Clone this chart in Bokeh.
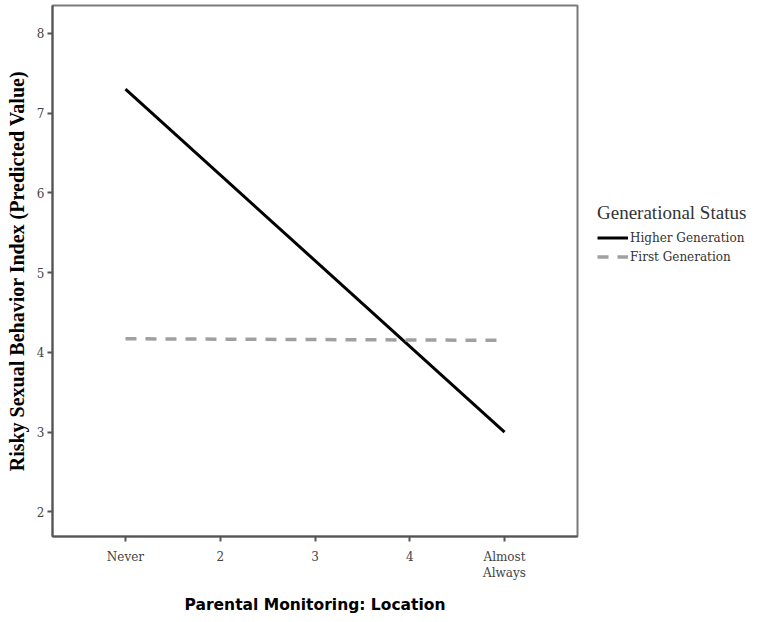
from bokeh.plotting import figure
from bokeh.models import FixedTicker, Range1d, Legend, LegendItem
from bokeh.embed import file_html
from bokeh.resources import INLINE

# Data
x_ticks = [1, 2, 3, 4, 5]
x_tick_labels = {1: "Never", 2: "2", 3: "3", 4: "4", 5: "Almost\nAlways"}
y_ticks = [2, 3, 4, 5, 6, 7, 8]
x_ends = [1, 5]
higher_generation = [7.30, 3.00]
first_generation = [4.17, 4.15]

p = figure(frame_width=525, frame_height=531, output_backend="svg", toolbar_location=None,
           x_range=Range1d(0.23, 5.77), y_range=Range1d(1.69, 8.35),
           min_border_left=52, min_border_right=0, min_border_top=5, min_border_bottom=6)

p.background_fill_color = "white"
p.border_fill_color = "white"
p.outline_line_color = "#7a7a7a"
p.outline_line_width = 2
p.grid.visible = False

r1 = p.line(x_ends, higher_generation, line_color="black", line_width=3)
r2 = p.line(x_ends, first_generation, line_color="#a0a0a0", line_width=3.5, line_dash="11 9")

for ax in (p.xaxis[0], p.yaxis[0]):
    ax.axis_line_color = "#555555"
    ax.axis_line_width = 2
    ax.major_tick_line_color = "#555555"
    ax.major_tick_line_width = 2
    ax.major_tick_in = 0
    ax.major_tick_out = 5
    ax.minor_tick_line_color = None
    ax.major_label_text_font = "DejaVu Serif"
    ax.major_label_text_font_size = "12px"
    ax.major_label_text_color = "#444444"

p.xaxis.ticker = FixedTicker(ticks=x_ticks)
p.xaxis.major_label_overrides = x_tick_labels
p.yaxis.ticker = FixedTicker(ticks=y_ticks)
p.yaxis.major_label_standoff = 3
p.xaxis.major_label_standoff = 8

p.xaxis.axis_label = "Parental Monitoring: Location"
p.xaxis.axis_label_text_font = "DejaVu Sans"
p.xaxis.axis_label_text_font_style = "bold"
p.xaxis.axis_label_text_font_size = "15.5px"
p.xaxis.axis_label_text_color = "black"
p.xaxis.axis_label_standoff = 13

p.yaxis.axis_label = "Risky Sexual Behavior Index (Predicted Value)"
p.yaxis.axis_label_text_font = "Liberation Serif"
p.yaxis.axis_label_text_font_style = "bold"
p.yaxis.axis_label_text_font_size = "20px"
p.yaxis.axis_label_text_color = "black"
p.yaxis.axis_label_standoff = 6

legend = Legend(items=[LegendItem(label="Higher Generation", renderers=[r1]),
                       LegendItem(label="First Generation", renderers=[r2])],
                title="Generational Status")
legend.title_text_font = "Liberation Serif"
legend.title_text_font_size = "19px"
legend.title_text_font_style = "normal"
legend.title_text_color = "#333333"
legend.title_standoff = 6
legend.label_text_font = "DejaVu Serif"
legend.label_text_font_size = "12px"
legend.label_text_color = "#333333"
legend.border_line_color = None
legend.background_fill_alpha = 0
legend.glyph_width = 31
legend.glyph_height = 15
legend.label_standoff = 2
legend.spacing = 4
legend.padding = 0
legend.margin = 0
legend.location = (20, 272)
p.add_layout(legend, "right")

open("out.html", "w").write(file_html(p, INLINE))
